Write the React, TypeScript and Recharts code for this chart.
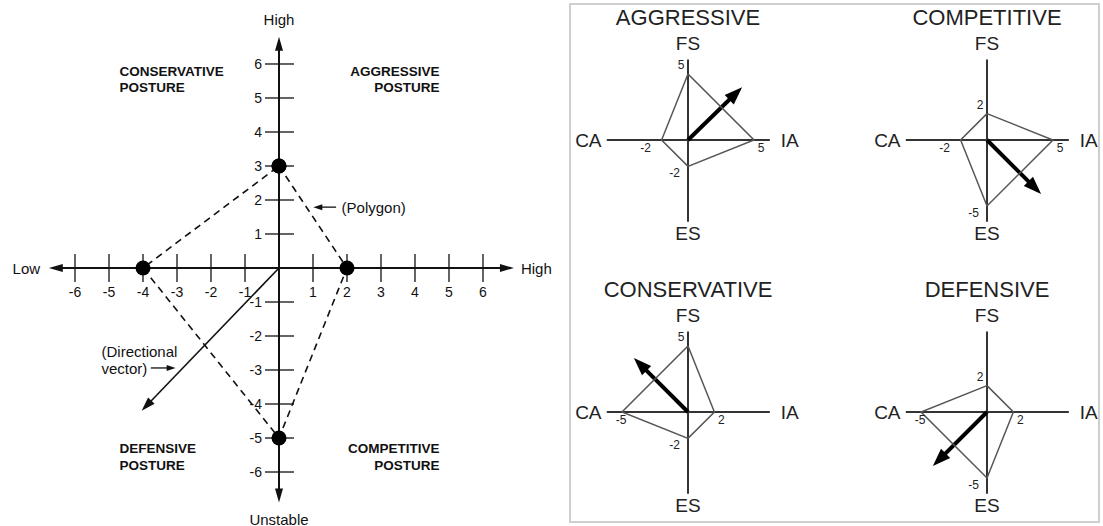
import { ReferenceLine, Scatter, ScatterChart, XAxis, YAxis } from "recharts";

// left chart: axis ticks
const xTicks = [-6, -5, -4, -3, -2, -1, 1, 2, 3, 4, 5, 6];
const yTicks = [6, 5, 4, 3, 2, 1, -1, -2, -3, -4, -5, -6];

// left chart: the firm's scores (FS up, IA right, ES down, CA left)
const mainFS = 3;
const mainIA = 2;
const mainES = -5;
const mainCA = -4;
const mainVector = { x: -4.04, y: -4.2 };

// right panel: the four typical profiles
const postures = ["AGGRESSIVE", "COMPETITIVE", "CONSERVATIVE", "DEFENSIVE"];
const fsValues = [5, 2, 5, 2];
const iaValues = [5, 5, 2, 2];
const esValues = [-2, -5, -2, -5];
const caValues = [-2, -2, -5, -5];
const vectorX = [4.1, 4.1, -4.1, -4.1];
const vectorY = [4.0, -4.1, 4.1, -4.1];

const FONT = '"Liberation Sans", Arial, Helvetica, sans-serif';
const INK = "#111";

function arrowShape(width: number, head: number, headW: number, color: string, both = false) {
	return (p: any) => {
		const { x1, y1, x2, y2 } = p;
		const len = Math.hypot(x2 - x1, y2 - y1) || 1;
		const ux = (x2 - x1) / len;
		const uy = (y2 - y1) / len;
		const tri = (tx: number, ty: number, dx: number, dy: number) => {
			const bx = tx - dx * head;
			const by = ty - dy * head;
			return `${tx},${ty} ${bx - (dy * headW) / 2},${by + (dx * headW) / 2} ${bx + (dy * headW) / 2},${by - (dx * headW) / 2}`;
		};
		const sx = both ? x1 + ux * head * 0.8 : x1;
		const sy = both ? y1 + uy * head * 0.8 : y1;
		return (
			<g>
				<line x1={sx} y1={sy} x2={x2 - ux * head * 0.8} y2={y2 - uy * head * 0.8} stroke={color} strokeWidth={width} />
				<polygon points={tri(x2, y2, ux, uy)} fill={color} />
				{both && <polygon points={tri(x1, y1, -ux, -uy)} fill={color} />}
			</g>
		);
	};
}

const textShape =
	(size: number, anchor: string, weight = "normal", color = INK) =>
	(p: any) => {
		const lines: string[] = p.payload.text.split("\n");
		return (
			<text
				x={p.cx}
				y={p.cy}
				textAnchor={anchor}
				dominantBaseline="central"
				fontFamily={FONT}
				fontSize={size}
				fontWeight={weight}
				fill={color}
			>
				{lines.map((l, i) => (
					<tspan key={i} x={p.cx} dy={i === 0 ? 0 : size * 1.22}>
						{l}
					</tspan>
				))}
			</text>
		);
	};

const hidden = <g />;

function MainChart() {
	const poly = [
		{ x: 0, y: mainFS },
		{ x: mainIA, y: 0 },
		{ x: 0, y: mainES },
		{ x: mainCA, y: 0 },
		{ x: 0, y: mainFS },
	];
	const quadLeft = [
		{ x: -4.69, y: 5.8, text: "CONSERVATIVE\nPOSTURE" },
		{ x: -4.69, y: -5.3, text: "DEFENSIVE\nPOSTURE" },
	];
	const quadRight = [
		{ x: 4.72, y: 5.8, text: "AGGRESSIVE\nPOSTURE" },
		{ x: 4.72, y: -5.3, text: "COMPETITIVE\nPOSTURE" },
	];
	const axisNames = [
		{ x: 0, y: 7.32, text: "High" },
		{ x: 0, y: -7.37, text: "Unstable" },
		{ x: -7.43, y: 0, text: "Low" },
		{ x: 7.57, y: 0, text: "High" },
	];
	const notes = [
		{ x: 1.84, y: 1.79, text: "(Polygon)" },
		{ x: -5.22, y: -2.43, text: "(Directional" },
		{ x: -5.22, y: -2.94, text: "vector)" },
	];
	return (
		<ScatterChart width={560} height={526} margin={{ top: 0, right: 0, bottom: 0, left: 0 }}>
			<XAxis type="number" dataKey="x" domain={[-8.206, 8.265]} allowDataOverflow hide />
			<YAxis type="number" dataKey="y" domain={[-7.588, 7.882]} allowDataOverflow hide />
			<ReferenceLine
				segment={[{ x: -6.77, y: 0 }, { x: 6.91, y: 0 }]}
				ifOverflow="visible"
				shape={arrowShape(2, 14, 8, INK, true)}
			/>
			<ReferenceLine
				segment={[{ x: 0, y: -6.9 }, { x: 0, y: 6.8 }]}
				ifOverflow="visible"
				shape={arrowShape(2, 14, 8, INK, true)}
			/>
			<Scatter
				data={xTicks.map((t) => ({ x: t, y: 0, text: String(t) }))}
				isAnimationActive={false}
				shape={(p: any) => (
					<g>
						<line x1={p.cx} x2={p.cx} y1={p.cy - 14} y2={p.cy + 14} stroke={INK} strokeWidth={1.3} />
						<text x={p.cx} y={p.cy + 24} textAnchor="middle" dominantBaseline="central" fontFamily={FONT} fontSize={14} fill={INK}>
							{p.payload.text}
						</text>
					</g>
				)}
			/>
			<Scatter
				data={yTicks.map((t) => ({ x: 0, y: t, text: String(t) }))}
				isAnimationActive={false}
				shape={(p: any) => (
					<g>
						<line x1={p.cx - 14} x2={p.cx + 15} y1={p.cy} y2={p.cy} stroke={INK} strokeWidth={1.3} />
						<text x={p.cx - 17} y={p.cy} textAnchor="end" dominantBaseline="central" fontFamily={FONT} fontSize={14} fill={INK}>
							{p.payload.text}
						</text>
					</g>
				)}
			/>
			<ReferenceLine
				segment={[{ x: 0, y: 0 }, mainVector]}
				ifOverflow="visible"
				shape={arrowShape(1.6, 14, 9, INK)}
			/>
			<ReferenceLine
				segment={[{ x: 1.68, y: 1.79 }, { x: 1.01, y: 1.79 }]}
				ifOverflow="visible"
				shape={arrowShape(1.3, 9, 6, INK)}
			/>
			<ReferenceLine
				segment={[{ x: -3.77, y: -2.94 }, { x: -3.04, y: -2.94 }]}
				ifOverflow="visible"
				shape={arrowShape(1.3, 9, 6, INK)}
			/>
			<Scatter
				data={poly}
				isAnimationActive={false}
				line={{ stroke: INK, strokeWidth: 1.6, strokeDasharray: "7 5" }}
				lineType="joint"
				shape={(p: any) => <circle cx={p.cx} cy={p.cy} r={7.5} fill="#000" />}
			/>
			<Scatter data={quadLeft} isAnimationActive={false} shape={textShape(13.5, "start", "bold")} />
			<Scatter data={quadRight} isAnimationActive={false} shape={textShape(13.5, "end", "bold")} />
			<Scatter data={axisNames} isAnimationActive={false} shape={textShape(15, "middle")} />
			<Scatter data={notes} isAnimationActive={false} shape={textShape(15, "start")} />
		</ScatterChart>
	);
}

const valueOffset = (axis: string, v: number): [number, number] => {
	if (axis === "FS") return [-7, -9];
	if (axis === "IA") return [7, 8];
	if (axis === "ES") return [-13.5, 7];
	return v <= -4 ? [-1, 8] : [-16, 8];
};

/** One small FS/IA/ES/CA profile. */
function PostureChart({ i }: { i: number }) {
	const poly = [
		{ x: 0, y: fsValues[i], axis: "FS", v: fsValues[i] },
		{ x: iaValues[i], y: 0, axis: "IA", v: iaValues[i] },
		{ x: 0, y: esValues[i], axis: "ES", v: esValues[i] },
		{ x: caValues[i], y: 0, axis: "CA", v: caValues[i] },
		{ x: 0, y: fsValues[i], axis: "", v: fsValues[i] },
	];
	const title = [{ x: 0, y: 9.35, text: postures[i] }];
	const names = [
		{ x: 0, y: 7.37, text: "FS" },
		{ x: 0, y: -7.07, text: "ES" },
		{ x: -7.55, y: 0, text: "CA" },
		{ x: 7.7, y: 0, text: "IA" },
	];
	return (
		<ScatterChart width={300} height={272} margin={{ top: 0, right: 0, bottom: 0, left: 0 }}>
			<XAxis type="number" dataKey="x" domain={[-11.364, 11.364]} allowDataOverflow hide />
			<YAxis type="number" dataKey="y" domain={[-10.303, 10.303]} allowDataOverflow hide />
			<ReferenceLine segment={[{ x: -6.15, y: 0 }, { x: 6.2, y: 0 }]} ifOverflow="visible" stroke="#333" strokeWidth={2} />
			<ReferenceLine segment={[{ x: 0, y: -6.2 }, { x: 0, y: 6.1 }]} ifOverflow="visible" stroke="#333" strokeWidth={2} />
			<Scatter
				data={poly}
				isAnimationActive={false}
				line={{ stroke: "#555", strokeWidth: 1.5 }}
				lineType="joint"
				shape={(p: any) => {
					if (!p.payload.axis) return hidden;
					const [dx, dy] = valueOffset(p.payload.axis, p.payload.v);
					return (
						<text x={p.cx + dx} y={p.cy + dy} textAnchor="middle" dominantBaseline="central" fontFamily={FONT} fontSize={12} fill="#222">
							{p.payload.v}
						</text>
					);
				}}
			/>
			<ReferenceLine
				segment={[{ x: 0, y: 0 }, { x: vectorX[i], y: vectorY[i] }]}
				ifOverflow="visible"
				shape={arrowShape(4, 18, 13, "#000")}
			/>
			<Scatter data={title} isAnimationActive={false} shape={textShape(22, "middle", "normal", "#222")} />
			<Scatter data={names} isAnimationActive={false} shape={textShape(19, "middle", "normal", "#222")} />
		</ScatterChart>
	);
}

const slots = [
	{ left: 538, top: 4 },
	{ left: 837, top: 4 },
	{ left: 538, top: 276 },
	{ left: 837, top: 276 },
];

export default function App() {
	return (
		<div
			style={{
				position: "fixed",
				left: 0,
				top: 0,
				width: 1103,
				height: 526,
				background: "#fff",
				overflow: "hidden",
			}}
		>
			<div
				style={{
					position: "absolute",
					left: 569,
					top: 3,
					width: 531,
					height: 520,
					border: "2px solid #cfcfcf",
					boxSizing: "border-box",
				}}
			/>
			<div style={{ position: "absolute", left: 0, top: 0 }}>
				<MainChart />
			</div>
			{slots.map((s, i) => (
				<div key={postures[i]} style={{ position: "absolute", left: s.left, top: s.top }}>
					<PostureChart i={i} />
				</div>
			))}
		</div>
	);
}
